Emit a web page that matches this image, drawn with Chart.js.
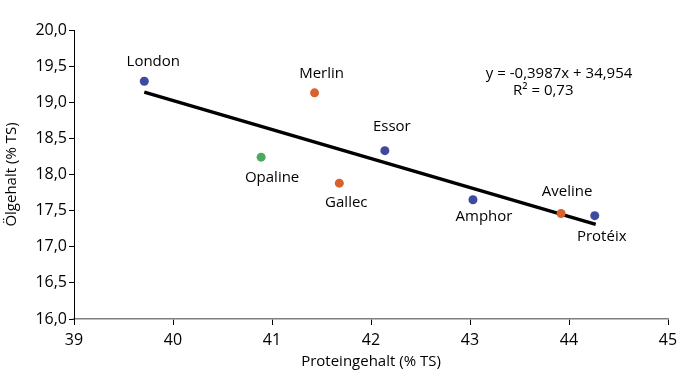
<!DOCTYPE html>
<html>
<head>
<meta charset="utf-8">
<script src="https://cdn.jsdelivr.net/npm/chart.js@4"></script>
<style>
html,body{margin:0;padding:0;background:#fff;}
#wrap{width:688px;height:371px;position:relative;}
</style>
</head>
<body>
<div id="wrap"><canvas id="c" width="688" height="371"></canvas></div>
<script>
// Data
const varieties = ['London','Merlin','Opaline','Gallec','Essor','Amphor','Aveline','Protéix'];
const protein   = [39.71, 41.43, 40.89, 41.68, 42.14, 43.03, 43.92, 44.26];
const oil       = [19.29, 19.13, 18.24, 17.88, 18.33, 17.65, 17.46, 17.43];
const groups    = ['blue','orange','green','orange','blue','blue','orange','blue'];
const trendX    = [39.71, 44.27];
const trendY    = [19.14, 17.31];
const equationLines = ['y = -0,3987x + 34,954', 'R² = 0,73'];
const xTitle = 'Proteingehalt (% TS)';
const yTitle = 'Ölgehalt (% TS)';

// Styles
const groupColors = {blue:'#3d4a9f', orange:'#d8612c', green:'#4aab5e'};
const labelOffsets = [[9,-20],[7,-19],[11,21],[7,20],[7,-24],[11,17],[6,-22],[7,21]];
const equationPos = [[43.9, 19.40],[43.74, 19.16]];
const FONT = "'Open Sans', sans-serif";

const pts = protein.map((x,i)=>({x:x, y:oil[i]}));
const trend = trendX.map((x,i)=>({x:x, y:trendY[i]}));
const fmt = v => v.toFixed(1).replace('.', ',');

const labelPlugin = {
  id:'labels',
  afterDatasetsDraw(chart){
    const ctx = chart.ctx;
    const meta = chart.getDatasetMeta(1);
    ctx.save();
    ctx.fillStyle = '#000';
    ctx.font = '15px ' + FONT;
    ctx.textAlign = 'center';
    ctx.textBaseline = 'middle';
    meta.data.forEach((el,i)=>{
      const o = labelOffsets[i];
      ctx.fillText(varieties[i], el.x + o[0], el.y + o[1]);
    });
    const xs = chart.scales.x, ys = chart.scales.y;
    equationLines.forEach((t,i)=>{
      ctx.fillText(t, xs.getPixelForValue(equationPos[i][0]), ys.getPixelForValue(equationPos[i][1]));
    });
    ctx.restore();
  }
};

new Chart(document.getElementById('c'), {
  type:'scatter',
  data:{
    datasets:[
      {type:'line', data:trend, borderColor:'#000', borderWidth:3.5, pointRadius:0, fill:false, order:2},
      {data:pts, pointRadius:4.5, pointHoverRadius:4.5, borderWidth:0,
       pointBackgroundColor:groups.map(g=>groupColors[g]), order:1}
    ]
  },
  options:{
    responsive:false, animation:false,
    layout:{padding:{left:0, top:30, right:20, bottom:0}},
    plugins:{legend:{display:false}, tooltip:{enabled:false}},
    scales:{
      x:{type:'linear', min:39, max:45,
         ticks:{stepSize:1, color:'#000', font:{family:FONT, size:16}, padding:6, maxRotation:0},
         grid:{drawOnChartArea:false, drawTicks:true, tickLength:6, color:'#000'},
         border:{display:true, color:'#7f7f7f', width:1.5},
         title:{display:true, text:xTitle, color:'#000', font:{family:FONT, size:15}, padding:{top:0,bottom:0}},
         afterFit(s){ s.height = 52; }
      },
      y:{type:'linear', min:16, max:20,
         ticks:{stepSize:0.5, color:'#000', font:{family:FONT, size:16}, padding:2, callback:v=>fmt(v)},
         grid:{drawOnChartArea:false, drawTicks:true, tickLength:5, color:'#000'},
         border:{display:true, color:'#000', width:1},
         title:{display:true, text:yTitle, color:'#000', font:{family:FONT, size:15}, padding:{top:3,bottom:0}},
         afterFit(s){ s.width = 74; }
      }
    }
  },
  plugins:[labelPlugin]
});
</script>
</body>
</html>
